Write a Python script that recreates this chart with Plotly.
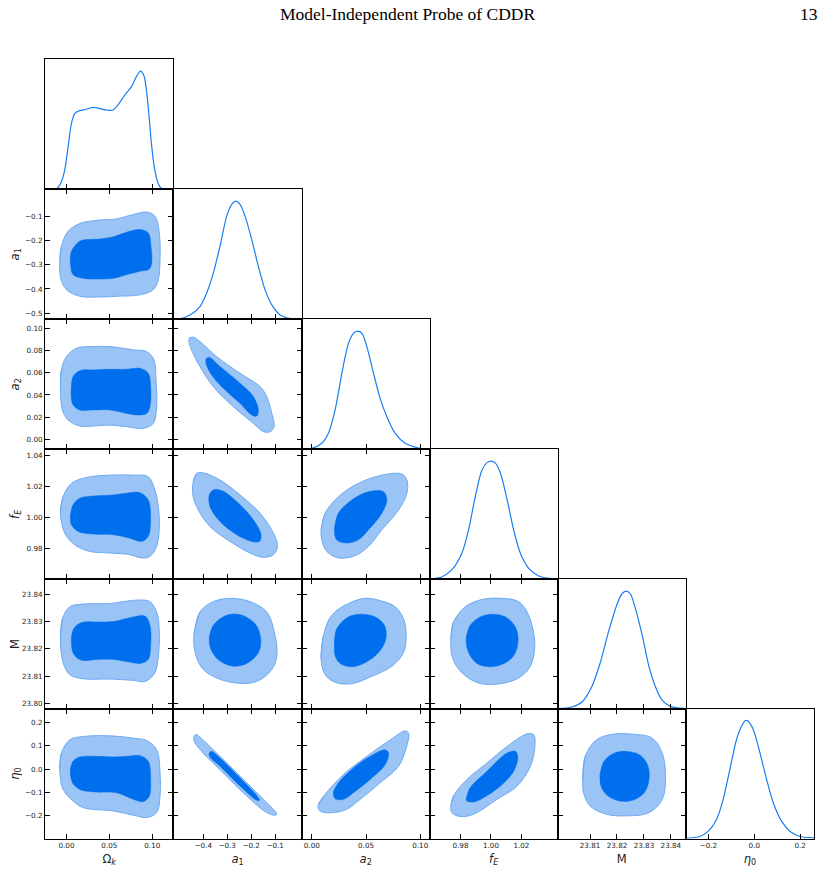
import plotly.graph_objects as go

# ---- parameters ---------------------------------------------------------
labels = ["Ω<sub><i>k</i></sub>", "<i>a</i><sub>1</sub>", "<i>a</i><sub>2</sub>",
          "<i>f</i><sub><i>E</i></sub>", "M", "<i>η</i><sub>0</sub>"]
ranges = [[-0.025, 0.1245], [-0.525, 0.011], [-0.0093, 0.1087],
          [0.9598, 1.0438], [23.798, 23.8455], [-0.299, 0.26]]

xtick_vals = [[0.0, 0.05, 0.10], [-0.4, -0.3, -0.2, -0.1], [0.0, 0.05, 0.10],
              [0.98, 1.00, 1.02], [23.81, 23.82, 23.83, 23.84], [-0.2, 0.0, 0.2]]
xtick_text = [["0.00", "0.05", "0.10"], ["−0.4", "−0.3", "−0.2", "−0.1"],
              ["0.00", "0.05", "0.10"], ["0.98", "1.00", "1.02"],
              ["23.81", "23.82", "23.83", "23.84"], ["−0.2", "0.0", "0.2"]]
ytick_vals = [[], [-0.5, -0.4, -0.3, -0.2, -0.1], [0.0, 0.02, 0.04, 0.06, 0.08, 0.10],
              [0.98, 1.00, 1.02, 1.04], [23.80, 23.81, 23.82, 23.83, 23.84],
              [-0.2, -0.1, 0.0, 0.1, 0.2]]
ytick_text = [[], ["−0.5", "−0.4", "−0.3", "−0.2", "−0.1"],
              ["0.00", "0.02", "0.04", "0.06", "0.08", "0.10"],
              ["0.98", "1.00", "1.02", "1.04"],
              ["23.80", "23.81", "23.82", "23.83", "23.84"],
              ["−0.2", "−0.1", "0.0", "0.1", "0.2"]]

# ---- 1D marginals (normalised to peak = 1) -------------------------------
omk_x = [-0.025, -0.015, -0.0117, -0.0058, -0.002, 0.0019, 0.0058, 0.0097, 0.0155, 0.0233,
         0.031, 0.0388, 0.0466, 0.0543, 0.0601, 0.0679, 0.0757, 0.0815, 0.0862, 0.090,
         0.0932, 0.0963, 0.099, 0.1029, 0.1068, 0.1107, 0.115, 0.1245]
omk_p = [0, 0, 0.002, 0.065, 0.164, 0.361, 0.558, 0.643, 0.666, 0.677,
         0.694, 0.683, 0.671, 0.671, 0.714, 0.798, 0.869, 0.953, 1.0, 0.967,
         0.840, 0.615, 0.389, 0.164, 0.051, 0.006, 0, 0]

a1_x = [-0.525, -0.4975, -0.4556, -0.4138, -0.386, -0.358, -0.330, -0.302, -0.281, -0.2645,
        -0.2465, -0.2255, -0.1975, -0.170, -0.142, -0.1138, -0.079, -0.0373, 0.011]
a1_p = [0.0, 0.005, 0.037, 0.108, 0.221, 0.391, 0.618, 0.873, 0.972, 1.0,
        0.972, 0.873, 0.675, 0.448, 0.249, 0.122, 0.037, 0.006, 0.0]

a2_x = [-0.0093, 0.0, 0.0092, 0.0153, 0.0215, 0.0277, 0.0338, 0.0384, 0.0421, 0.0462,
        0.0508, 0.0569, 0.063, 0.0692, 0.0769, 0.0861, 0.0984, 0.1076, 0.1087]
a2_p = [0.002, 0.008, 0.051, 0.135, 0.333, 0.643, 0.896, 0.981, 1.0, 0.981,
        0.867, 0.643, 0.431, 0.276, 0.135, 0.051, 0.011, 0.003, 0.003]

fe_x = [0.9598, 0.9612, 0.9677, 0.9743, 0.9809, 0.9853, 0.9897, 0.9941, 0.9974, 1.0002,
        1.0029, 1.0062, 1.0106, 1.0149, 1.0193, 1.0248, 1.0314, 1.0402, 1.0438]
fe_p = [0.004, 0.005, 0.020, 0.079, 0.220, 0.417, 0.699, 0.924, 0.987, 1.0,
        0.983, 0.899, 0.674, 0.417, 0.220, 0.093, 0.028, 0.005, 0.003]

m_x = [23.798, 23.7997, 23.8033, 23.807, 23.8106, 23.8137, 23.8167, 23.8197, 23.8218, 23.8234,
       23.825, 23.827, 23.8295, 23.8319, 23.8343, 23.8368, 23.8398, 23.8441, 23.8455]
m_p = [0.002, 0.003, 0.014, 0.057, 0.185, 0.384, 0.640, 0.867, 0.975, 1.0,
       0.975, 0.838, 0.611, 0.355, 0.185, 0.071, 0.020, 0.003, 0.002]

eta_x = [-0.299, -0.2891, -0.238, -0.2016, -0.1651, -0.136, -0.1068, -0.0776, -0.0557, -0.0381,
         -0.0266, -0.0047, 0.0245, 0.0537, 0.0828, 0.1193, 0.1558, 0.1995, 0.2506, 0.26]
eta_p = [0.002, 0.003, 0.017, 0.060, 0.159, 0.329, 0.584, 0.839, 0.952, 1.0,
         0.994, 0.924, 0.725, 0.499, 0.301, 0.145, 0.060, 0.017, 0.006, 0.005]

# ---- 2D contours (95% outer, 68% inner), boundary points (x, y) ----------
omk_a1_out = ([-0.0078, -0.0059, 0.0019, 0.0155, 0.0389, 0.0584, 0.0778, 0.0934, 0.1031, 0.1082,
               0.109, 0.107, 0.1012, 0.0856, 0.0584, 0.0389, 0.0155, 0.0, -0.0067],
              [-0.293, -0.224, -0.162, -0.130, -0.116, -0.111, -0.093, -0.083, -0.100, -0.169,
               -0.279, -0.362, -0.403, -0.424, -0.430, -0.433, -0.430, -0.403, -0.355])
omk_a1_in = ([0.0058, 0.0155, 0.0389, 0.0545, 0.0700, 0.0856, 0.0953, 0.0985, 0.0993, 0.0965,
              0.0856, 0.0700, 0.0545, 0.0389, 0.0194, 0.0078, 0.005],
             [-0.245, -0.203, -0.194, -0.185, -0.166, -0.155, -0.169, -0.224, -0.293, -0.318,
              -0.327, -0.341, -0.356, -0.359, -0.356, -0.341, -0.307])

omk_a2_out = ([-0.007, -0.0059, 0.0, 0.0116, 0.0311, 0.0506, 0.0661, 0.0778, 0.0934, 0.102,
               0.1043, 0.1051, 0.1012, 0.0895, 0.070, 0.0506, 0.0311, 0.0155, 0.0019, -0.0047],
              [0.0476, 0.0627, 0.0748, 0.0824, 0.0839, 0.0839, 0.0824, 0.0809, 0.0794, 0.0718,
               0.0536, 0.0294, 0.0143, 0.0097, 0.0112, 0.0127, 0.0118, 0.0118, 0.0173, 0.0264])
omk_a2_in = ([0.0058, 0.0078, 0.0155, 0.0311, 0.0506, 0.070, 0.0856, 0.0953, 0.0981, 0.0973,
              0.0934, 0.0837, 0.070, 0.0506, 0.0311, 0.0155, 0.0078, 0.0054],
             [0.0476, 0.0567, 0.0621, 0.0627, 0.0633, 0.0633, 0.0642, 0.0597, 0.0476, 0.0294,
              0.0233, 0.0218, 0.0233, 0.0264, 0.0264, 0.0264, 0.0309, 0.040])

a1_a2_out = ([-0.4585, -0.4417, -0.4138, -0.344, -0.2464, -0.1628, -0.1349, -0.1139, -0.1042,
              -0.1209, -0.1488, -0.1907, -0.2744, -0.358, -0.4138, -0.4488, -0.4598],
             [0.0915, 0.0924, 0.0885, 0.0748, 0.0597, 0.0476, 0.0385, 0.0233, 0.0112,
              0.0067, 0.0067, 0.0143, 0.0294, 0.0476, 0.0658, 0.0809, 0.0885])
a1_a2_in = ([-0.386, -0.372, -0.330, -0.2464, -0.1907, -0.1698, -0.1767, -0.1976, -0.2464,
             -0.3163, -0.365, -0.3887],
            [0.0733, 0.0739, 0.0658, 0.0506, 0.0385, 0.0264, 0.0209, 0.0218, 0.0324,
             0.0461, 0.0582, 0.0688])

omk_fe_out = ([-0.007, -0.0039, 0.0058, 0.0233, 0.0506, 0.0778, 0.0953, 0.1031, 0.107, 0.1082,
               0.1051, 0.0973, 0.0876, 0.0739, 0.0506, 0.0272, 0.0097, -0.002],
              [1.0025, 1.0132, 1.0218, 1.0256, 1.0271, 1.0271, 1.0261, 1.0175, 1.0068, 0.9939,
               0.9811, 0.9746, 0.9736, 0.9757, 0.9768, 0.9778, 0.9821, 0.9896])
omk_fe_in = ([0.0046, 0.0078, 0.0155, 0.0311, 0.0545, 0.070, 0.0856, 0.0953, 0.0981, 0.0953,
              0.0876, 0.0739, 0.0545, 0.0311, 0.0136, 0.0058],
             [1.0003, 1.0079, 1.0121, 1.0136, 1.0143, 1.0154, 1.0158, 1.0111, 0.9982, 0.9875,
              0.9843, 0.9864, 0.9886, 0.989, 0.9907, 0.995])

a1_fe_out = ([-0.4417, -0.4278, -0.4001, -0.330, -0.2464, -0.1628, -0.107, -0.0903, -0.107,
              -0.1488, -0.2046, -0.2883, -0.372, -0.4278, -0.4445],
             [1.0229, 1.0282, 1.0286, 1.0239, 1.0143, 1.0025, 0.9896, 0.9811, 0.9757,
              0.974, 0.9768, 0.9843, 0.9939, 1.0068, 1.0154])
a1_fe_in = ([-0.3748, -0.358, -0.3232, -0.2604, -0.1907, -0.1586, -0.1656, -0.1976, -0.2604,
             -0.330, -0.372],
            [1.0143, 1.0175, 1.0171, 1.01, 0.9982, 0.9886, 0.9843, 0.9843, 0.9886,
             0.9971, 1.0068])

a2_fe_out = ([0.0086, 0.0123, 0.0246, 0.043, 0.0646, 0.083, 0.0877, 0.0877, 0.080, 0.0646,
              0.0523, 0.040, 0.0246, 0.0138, 0.0092],
             [0.9918, 1.0025, 1.0132, 1.0218, 1.0271, 1.0278, 1.0239, 1.0154, 1.0046, 0.9918,
              0.9811, 0.9751, 0.9736, 0.9778, 0.9853])
a2_fe_in = ([0.0209, 0.0246, 0.0369, 0.0523, 0.0661, 0.0692, 0.0646, 0.0523, 0.043, 0.0323, 0.023],
            [0.9918, 1.0025, 1.0111, 1.0164, 1.0164, 1.0111, 1.0025, 0.9918, 0.9853, 0.9832, 0.9853])

omk_m_out = ([-0.007, -0.0047, 0.0039, 0.0194, 0.0506, 0.0661, 0.0856, 0.0973, 0.1051, 0.1082,
              0.107, 0.1031, 0.0915, 0.0778, 0.0506, 0.0194, 0.0039, -0.0039],
             [23.8236, 23.831, 23.8354, 23.8364, 23.8366, 23.8373, 23.8379, 23.8373, 23.8335, 23.8261,
              23.8174, 23.8112, 23.808, 23.8084, 23.8089, 23.809, 23.8105, 23.8149])
omk_m_in = ([0.0058, 0.0085, 0.0175, 0.0389, 0.0545, 0.0778, 0.0915, 0.0973, 0.0981, 0.0953,
             0.0856, 0.0739, 0.0545, 0.035, 0.0175, 0.0085],
            [23.8236, 23.8273, 23.8296, 23.8298, 23.83, 23.8317, 23.832, 23.8286, 23.8211, 23.8161,
             23.8146, 23.8151, 23.8161, 23.8161, 23.8158, 23.818])

a1_m_out = ([-0.4389, -0.4138, -0.358, -0.2883, -0.2046, -0.1349, -0.1, -0.093, -0.1139, -0.1767,
             -0.2604, -0.344, -0.4001, -0.4305],
            [23.8248, 23.8335, 23.8373, 23.8385, 23.8373, 23.8335, 23.8248, 23.8174, 23.8124, 23.808,
             23.8074, 23.8093, 23.8124, 23.8174])
a1_m_in = ([-0.3748, -0.358, -0.3023, -0.2464, -0.1837, -0.16, -0.1698, -0.2186, -0.2744, -0.330, -0.365],
           [23.8236, 23.8286, 23.8323, 23.8325, 23.8292, 23.8236, 23.8186, 23.8146, 23.8136, 23.8155, 23.8192])

a2_m_out = ([0.0086, 0.0107, 0.0184, 0.0338, 0.0492, 0.0646, 0.0769, 0.0846, 0.087, 0.0846,
             0.0738, 0.0554, 0.0369, 0.0215, 0.0123],
            [23.8161, 23.8248, 23.8323, 23.8366, 23.8385, 23.8375, 23.8354, 23.831, 23.8248, 23.8186,
             23.8136, 23.8099, 23.8072, 23.8077, 23.8105])
a2_m_in = ([0.0209, 0.023, 0.0338, 0.0461, 0.0584, 0.067, 0.0683, 0.0615, 0.0492, 0.0369, 0.0261, 0.0215],
           [23.8211, 23.8273, 23.8317, 23.8327, 23.8317, 23.8286, 23.8236, 23.8186, 23.8149, 23.8134,
            23.8146, 23.8174])

fe_m_out = ([0.9737, 0.9754, 0.9831, 0.9941, 1.0073, 1.0182, 1.0237, 1.0275, 1.0288, 1.0259,
             1.0182, 1.0051, 0.9919, 0.9809, 0.9747],
            [23.8236, 23.8298, 23.8354, 23.8381, 23.8385, 23.8373, 23.8335, 23.8273, 23.8211, 23.8136,
             23.8093, 23.8071, 23.8074, 23.8112, 23.8168])
fe_m_in = ([0.9838, 0.9864, 0.993, 1.0007, 1.0095, 1.0161, 1.0178, 1.0149, 1.0073, 0.9996, 0.9908, 0.9853],
           [23.8236, 23.8286, 23.8317, 23.8327, 23.8317, 23.8279, 23.823, 23.8174, 23.8143, 23.8134,
            23.8146, 23.8186])

omk_eta_out = ([-0.0078, -0.0059, 0.0039, 0.0194, 0.0506, 0.0778, 0.0934, 0.1051, 0.109, 0.109,
                0.1051, 0.0934, 0.0817, 0.0545, 0.0194, 0.0078, -0.0039],
               [-0.0022, 0.069, 0.126, 0.1403, 0.1432, 0.1332, 0.1232, 0.0833, -0.0164, -0.1161,
                -0.1874, -0.2087, -0.2016, -0.1803, -0.166, -0.1375, -0.0876])
omk_eta_in = ([0.0046, 0.0078, 0.0155, 0.035, 0.0545, 0.070, 0.0856, 0.0953, 0.0981, 0.0965,
               0.0895, 0.0778, 0.0584, 0.035, 0.0155, 0.007],
              [-0.0022, 0.0335, 0.052, 0.0548, 0.052, 0.0548, 0.0577, 0.0335, -0.0449, -0.1161,
               -0.1403, -0.1304, -0.1019, -0.099, -0.0876, -0.0591])

a1_eta_out = ([-0.4389, -0.4278, -0.4138, -0.344, -0.2464, -0.1488, -0.093, -0.100, -0.1349,
               -0.2185, -0.3163, -0.4001, -0.4375],
              [0.1403, 0.1474, 0.1375, 0.069, -0.0307, -0.1304, -0.1945, -0.1988, -0.1874,
               -0.1161, -0.0164, 0.069, 0.1189])
a1_eta_in = ([-0.3748, -0.365, -0.330, -0.2464, -0.1698, -0.1656, -0.1767, -0.2464, -0.330, -0.372],
             [0.069, 0.0762, 0.0477, -0.0378, -0.1233, -0.1347, -0.1347, -0.0734, 0.0121, 0.052])

a2_eta_out = ([0.0061, 0.0123, 0.0292, 0.0507, 0.0723, 0.0861, 0.0892, 0.0883, 0.080, 0.063,
               0.0446, 0.0323, 0.020, 0.0092, 0.0061],
              [-0.1517, -0.109, -0.0235, 0.0548, 0.126, 0.1645, 0.1546, 0.1118, 0.0121, -0.0591,
               -0.1304, -0.1731, -0.1874, -0.1845, -0.1731])
a2_eta_in = ([0.020, 0.0246, 0.0384, 0.0538, 0.0677, 0.0707, 0.0677, 0.0538, 0.0384, 0.0292, 0.0215],
             [-0.1019, -0.0591, 0.005, 0.0548, 0.0833, 0.069, 0.0192, -0.0449, -0.1019, -0.1304, -0.1275])

fe_eta_out = ([0.9737, 0.9754, 0.9842, 0.9974, 1.0106, 1.0237, 1.0281, 1.0288, 1.0259, 1.0171,
               1.004, 0.9886, 0.9798, 0.9743],
              [-0.1589, -0.1161, -0.0449, 0.0264, 0.0976, 0.1517, 0.1474, 0.0976, 0.0121, -0.0734,
               -0.1304, -0.1945, -0.2045, -0.1874])
fe_eta_in = ([0.9838, 0.9864, 0.9974, 1.0106, 1.0161, 1.0176, 1.0149, 1.0062, 0.9952, 0.9886, 0.9842],
             [-0.1304, -0.0805, -0.0093, 0.069, 0.0762, 0.0548, -0.0093, -0.0734, -0.1233, -0.1418, -0.1375])

m_eta_out = ([23.8073, 23.8082, 23.8124, 23.8185, 23.8258, 23.8331, 23.8368, 23.838, 23.8368, 23.8319,
              23.8234, 23.8161, 23.810, 23.8076],
             [-0.0449, 0.0548, 0.126, 0.1503, 0.1503, 0.1332, 0.069, -0.0307, -0.1304, -0.1874,
              -0.2016, -0.1945, -0.1589, -0.1019])
m_eta_in = ([23.8137, 23.8152, 23.8191, 23.8234, 23.8283, 23.8313, 23.8319, 23.8301, 23.8258, 23.821,
             23.8167, 23.8143],
            [-0.0307, 0.0335, 0.069, 0.0762, 0.0619, 0.0192, -0.0449, -0.1019, -0.1347, -0.1375,
             -0.1161, -0.0805])

marginals = [(omk_x, omk_p), (a1_x, a1_p), (a2_x, a2_p), (fe_x, fe_p), (m_x, m_p), (eta_x, eta_p)]
contours = {
    (1, 0): (omk_a1_out, omk_a1_in),
    (2, 0): (omk_a2_out, omk_a2_in), (2, 1): (a1_a2_out, a1_a2_in),
    (3, 0): (omk_fe_out, omk_fe_in), (3, 1): (a1_fe_out, a1_fe_in), (3, 2): (a2_fe_out, a2_fe_in),
    (4, 0): (omk_m_out, omk_m_in), (4, 1): (a1_m_out, a1_m_in), (4, 2): (a2_m_out, a2_m_in),
    (4, 3): (fe_m_out, fe_m_in),
    (5, 0): (omk_eta_out, omk_eta_in), (5, 1): (a1_eta_out, a1_eta_in), (5, 2): (a2_eta_out, a2_eta_in),
    (5, 3): (fe_eta_out, fe_eta_in), (5, 4): (m_eta_out, m_eta_in),
}

# ---- layout ---------------------------------------------------------------
# the page body adds an 8px margin, so the figure is 8px smaller and every
# pixel position below is measured from the figure corner (page px - 8)
PAD = 8
W, H = 826 - PAD, 872 - PAD
col_edges = [p - PAD for p in [45, 173.3, 301.7, 429.7, 557.7, 685.7, 814]]
row_edges = [p - PAD for p in [59.3, 189.3, 319.3, 449.3, 579.3, 708.7, 838.5]]

DARK = "#006FED"
LIGHT = "#9AC4F6"
EDGE = "#6EA9F1"
LINE = "#1A7DF2"
tick_font = dict(family="DejaVu Sans", size=7.2, color="#222222")
title_font = dict(family="DejaVu Sans", size=11.5, color="#222222")
head_font = dict(family="Liberation Serif", size=17.5, color="black")


def closed(pts):
    xs, ys = pts
    return list(xs) + [xs[0], xs[1]], list(ys) + [ys[0], ys[1]]


fig = go.Figure()
layout = {}
k = 0
for i in range(6):
    for j in range(i + 1):
        k += 1
        xa, ya = f"x{k}", f"y{k}"
        if i == j:
            fig.add_trace(go.Scatter(
                x=marginals[i][0], y=marginals[i][1], mode="lines",
                line=dict(color=LINE, width=1.2, shape="spline", smoothing=0.8),
                xaxis=xa, yaxis=ya, showlegend=False, hoverinfo="skip"))
        else:
            outer, inner = contours[(i, j)]
            ox, oy = closed(outer)
            ix, iy = closed(inner)
            fig.add_trace(go.Scatter(
                x=ox, y=oy, mode="lines", fill="toself", fillcolor=LIGHT,
                line=dict(color=EDGE, width=1, shape="spline", smoothing=1.0),
                xaxis=xa, yaxis=ya, showlegend=False, hoverinfo="skip"))
            fig.add_trace(go.Scatter(
                x=ix, y=iy, mode="lines", fill="toself", fillcolor=DARK,
                line=dict(color=DARK, width=0.5, shape="spline", smoothing=1.0),
                xaxis=xa, yaxis=ya, showlegend=False, hoverinfo="skip"))

        sfx = "" if k == 1 else str(k)
        xaxis = dict(
            domain=[col_edges[j] / W, col_edges[j + 1] / W], range=ranges[j], anchor=ya,
            showline=True, linecolor="black", linewidth=1,
            mirror=True if i == j else "ticks",
            ticks="inside", ticklen=5, tickwidth=1, tickcolor="black",
            tickvals=xtick_vals[j], ticktext=xtick_text[j],
            showticklabels=(i == 5), tickfont=tick_font,
            showgrid=False, zeroline=False,
        )
        if i == 5:
            xaxis["title"] = dict(text=labels[j], font=title_font, standoff=5)
        layout["xaxis" + sfx] = xaxis

        ydomain = [1 - row_edges[i + 1] / H, 1 - row_edges[i] / H]
        if i == j:
            yaxis = dict(
                domain=ydomain, range=[0, 1.1], anchor=xa,
                showline=True, linecolor="black", linewidth=1, mirror=True,
                ticks="", showticklabels=False, showgrid=False, zeroline=False,
            )
        else:
            yaxis = dict(
                domain=ydomain, range=ranges[i], anchor=xa,
                showline=True, linecolor="black", linewidth=1, mirror="ticks",
                ticks="inside", ticklen=5, tickwidth=1, tickcolor="black",
                tickvals=ytick_vals[i], ticktext=ytick_text[i],
                showticklabels=(j == 0), tickfont=tick_font,
                showgrid=False, zeroline=False,
            )
            if j == 0:
                yaxis["title"] = dict(text=labels[i], font=title_font, standoff=4)
        layout["yaxis" + sfx] = yaxis

fig.update_layout(
    width=W, height=H,
    margin=dict(l=0, r=0, t=0, b=0),
    paper_bgcolor="white", plot_bgcolor="white",
    annotations=[
        dict(text="Model-Independent Probe of CDDR", x=(407.5 - PAD) / W, y=1 - (14.5 - PAD) / H,
             xref="paper", yref="paper", showarrow=False, xanchor="center", yanchor="middle",
             font=head_font),
        dict(text="13", x=(820 - PAD) / W, y=1 - (14.5 - PAD) / H, xref="paper", yref="paper",
             showarrow=False, xanchor="right", yanchor="middle", font=head_font),
    ],
    **layout,
)

fig.write_html("out.html")
